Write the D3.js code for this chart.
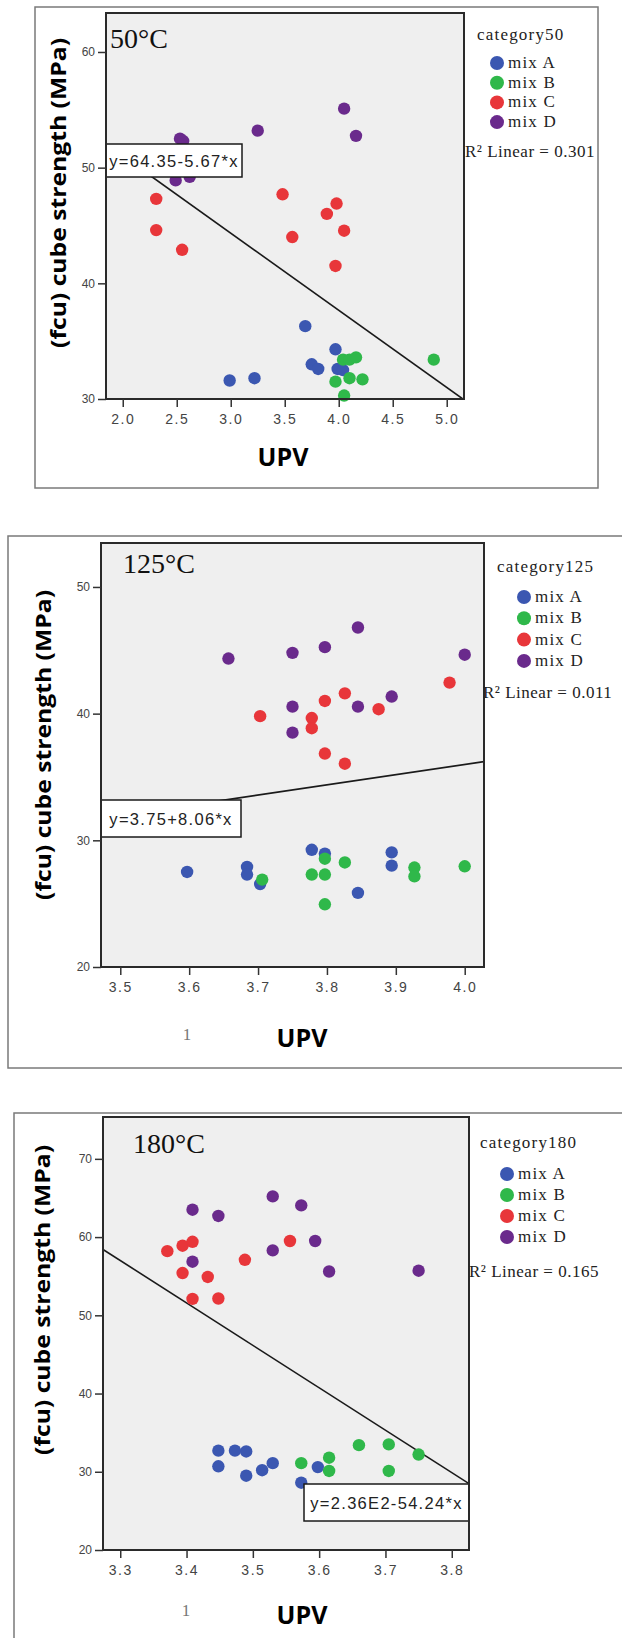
<!DOCTYPE html>
<html>
<head>
<meta charset="utf-8">
<script src="https://cdn.jsdelivr.net/npm/d3@7"></script>
<style>
body { margin: 0; background: #fff; }
.axis .domain { display: none; }
.axis .tick line { stroke: #333; stroke-width: 1.5; }
.axis .tick text { font-family: 'Liberation Sans', sans-serif; fill: #444; }
.yaxis .tick text { font-size: 12px; }
.xaxis .tick text { font-size: 14px; letter-spacing: 1.5px; }
.legend text { font-family: 'Liberation Serif', serif; font-size: 17px; letter-spacing: 1.2px; fill: #222; }
.legend text.r2 { letter-spacing: 0.5px; }
</style>
</head>
<body>
<script>
// categories and colours
const categories = ['mix A', 'mix B', 'mix C', 'mix D']
const colors = ['#3b57b1', '#2fb84a', '#e8363a', '#6a2a8c']

const temps = ['50°C', '125°C', '180°C']
const legendTitles = ['category50', 'category125', 'category180']
const r2Labels = ['R² Linear = 0.301', 'R² Linear = 0.011', 'R² Linear = 0.165']
const eqLabels = ['y=64.35-5.67*x', 'y=3.75+8.06*x', 'y=2.36E2-54.24*x']

// fit line as it is drawn in each panel
const fitIntercept = [64.35, 3.75, 236]
const fitSlope = [-6.67, 8.06, -54.24]

// ticks
const yTicks50 = [30, 40, 50, 60]
const xTicks50 = [2.0, 2.5, 3.0, 3.5, 4.0, 4.5, 5.0]
const yTicks125 = [20, 30, 40, 50]
const xTicks125 = [3.5, 3.6, 3.7, 3.8, 3.9, 4.0]
const yTicks180 = [20, 30, 40, 50, 60, 70]
const xTicks180 = [3.3, 3.4, 3.5, 3.6, 3.7, 3.8]

// 50 C  [UPV, fcu]
const mixA_50 = [[2.99, 31.6], [3.22, 31.8], [3.69, 36.3], [3.75, 33.0], [3.81, 32.6], [3.97, 34.3], [3.99, 32.6], [4.04, 32.5]]
const mixB_50 = [[3.97, 31.5], [4.05, 30.3], [4.10, 31.8], [4.22, 31.7], [4.04, 33.4], [4.10, 33.4], [4.16, 33.6], [4.88, 33.4]]
const mixC_50 = [[2.31, 47.3], [2.31, 44.6], [2.55, 42.9], [3.48, 47.7], [3.57, 44.0], [3.98, 46.9], [3.89, 46.0], [4.05, 44.55], [3.97, 41.5]]
const mixD_50 = [[4.05, 55.1], [3.25, 53.2], [4.16, 52.75], [2.53, 52.5], [2.56, 52.3], [2.49, 48.9], [2.62, 49.2]]

// 125 C
const mixA_125 = [[3.597, 27.5], [3.684, 27.9], [3.684, 27.3], [3.703, 26.55], [3.778, 29.25], [3.797, 28.95], [3.845, 25.85], [3.894, 29.05], [3.894, 28.0]]
const mixB_125 = [[3.706, 26.9], [3.778, 27.3], [3.797, 27.3], [3.797, 28.55], [3.826, 28.25], [3.797, 24.95], [3.927, 27.85], [3.927, 27.15], [4.0, 27.95]]
const mixC_125 = [[3.703, 39.8], [3.778, 39.65], [3.778, 38.85], [3.797, 41.0], [3.826, 41.6], [3.797, 36.85], [3.826, 36.05], [3.875, 40.35], [3.978, 42.45]]
const mixD_125 = [[3.657, 44.35], [3.75, 44.8], [3.797, 45.25], [3.845, 46.8], [4.0, 44.65], [3.75, 40.55], [3.75, 38.5], [3.845, 40.55], [3.894, 41.35]]

// 180 C
const mixA_180 = [[3.448, 32.7], [3.448, 30.7], [3.473, 32.7], [3.49, 32.6], [3.49, 29.5], [3.514, 30.2], [3.53, 31.1], [3.573, 28.6], [3.598, 30.6]]
const mixB_180 = [[3.573, 31.1], [3.615, 31.8], [3.615, 30.1], [3.66, 33.4], [3.705, 33.5], [3.705, 30.1], [3.75, 32.2]]
const mixC_180 = [[3.371, 58.2], [3.394, 58.9], [3.409, 59.4], [3.394, 55.4], [3.432, 54.9], [3.409, 52.1], [3.448, 52.15], [3.488, 57.1], [3.556, 59.5]]
const mixD_180 = [[3.409, 63.5], [3.448, 62.7], [3.53, 65.2], [3.573, 64.05], [3.53, 58.3], [3.594, 59.5], [3.409, 56.85], [3.615, 55.6], [3.75, 55.7]]

// layout of the three panels (pixels)
const panels = [
	{
		series: [mixA_50, mixB_50, mixC_50, mixD_50], xTicks: xTicks50, yTicks: yTicks50,
		xDomain: [1.845, 5.16], yDomain: [30, 63.37],
		outer: [35, 7, 598, 488], plot: [106, 13, 464, 399],
		eqBox: [106, 144, 242, 177], temp: [110, 48], yTitle: [58, 193], xTitle: [283, 466],
		legend: { title: [477, 40], dotX: 497, dotY: 63, step: 19.7, r2: [465, 157] }
	},
	{
		series: [mixA_125, mixB_125, mixC_125, mixD_125], xTicks: xTicks125, yTicks: yTicks125,
		xDomain: [3.472, 4.028], yDomain: [20, 53.47],
		outer: [8, 536, 700, 1068], plot: [101, 543, 484, 967],
		eqBox: [101, 800, 241, 837], temp: [123, 573], yTitle: [43, 745], xTitle: [302, 1047],
		legend: { title: [497, 572], dotX: 524, dotY: 597, step: 21.3, r2: [483, 698] },
		mark: [187, 1040]
	},
	{
		series: [mixA_180, mixB_180, mixC_180, mixD_180], xTicks: xTicks180, yTicks: yTicks180,
		xDomain: [3.274, 3.826], yDomain: [20, 75.35],
		outer: [14, 1113, 700, 1700], plot: [103, 1117, 469, 1550],
		eqBox: [304, 1484, 469, 1521], temp: [133, 1153], yTitle: [42, 1300], xTitle: [302, 1624],
		legend: { title: [480, 1148], dotX: 507, dotY: 1174, step: 21, r2: [469, 1277] },
		mark: [186, 1616]
	}
]

const svg = d3.select('body').append('svg').attr('width', 622).attr('height', 1638)

panels.forEach((p, i) => {
	const g = svg.append('g')
	const [l, t, r, b] = p.plot

	// outer frame
	g.append('rect')
		.attr('x', p.outer[0]).attr('y', p.outer[1])
		.attr('width', p.outer[2] - p.outer[0]).attr('height', p.outer[3] - p.outer[1])
		.attr('fill', '#fff').attr('stroke', '#7a7a7a').attr('stroke-width', 1.5)

	const x = d3.scaleLinear().domain(p.xDomain).range([l, r])
	const y = d3.scaleLinear().domain(p.yDomain).range([b, t])

	g.append('rect').attr('x', l).attr('y', t).attr('width', r - l).attr('height', b - t).attr('fill', '#efefef')

	const clipId = 'clip' + i
	g.append('clipPath').attr('id', clipId)
		.append('rect').attr('x', l).attr('y', t).attr('width', r - l).attr('height', b - t)

	// regression line
	const fit = p.xDomain.map(v => [v, fitIntercept[i] + fitSlope[i] * v])
	g.append('path')
		.attr('clip-path', `url(#${clipId})`)
		.attr('d', d3.line().x(d => x(d[0])).y(d => y(d[1]))(fit))
		.attr('fill', 'none').attr('stroke', '#1a1a1a').attr('stroke-width', 1.6)

	// points
	p.series.forEach((s, k) => {
		g.append('g').selectAll('circle')
			.data(s)
			.join('circle')
			.attr('cx', d => x(d[0]))
			.attr('cy', d => y(d[1]))
			.attr('r', 6.2)
			.attr('fill', colors[k])
	})

	// equation box
	const eb = p.eqBox
	g.append('rect').attr('x', eb[0]).attr('y', eb[1]).attr('width', eb[2] - eb[0]).attr('height', eb[3] - eb[1])
		.attr('fill', '#fff').attr('stroke', '#1a1a1a').attr('stroke-width', 1.5)
	g.append('text')
		.attr('x', (eb[0] + eb[2]) / 2).attr('y', (eb[1] + eb[3]) / 2 + 6)
		.attr('text-anchor', 'middle')
		.attr('font-family', 'Liberation Sans, sans-serif').attr('font-size', 16.5).attr('letter-spacing', 1.3)
		.attr('fill', '#222')
		.text(eqLabels[i])

	// plot frame
	g.append('rect').attr('x', l).attr('y', t).attr('width', r - l).attr('height', b - t)
		.attr('fill', 'none').attr('stroke', '#2a2a2a').attr('stroke-width', 2)

	// axes
	g.append('g').attr('class', 'axis yaxis').attr('transform', `translate(${l},0)`)
		.call(d3.axisLeft(y).tickValues(p.yTicks).tickSize(8).tickPadding(3).tickFormat(d3.format('d')))
	g.append('g').attr('class', 'axis xaxis').attr('transform', `translate(0,${b})`)
		.call(d3.axisBottom(x).tickValues(p.xTicks).tickSize(8).tickPadding(7).tickFormat(d3.format('.1f')))

	// temperature label
	g.append('text').attr('x', p.temp[0]).attr('y', p.temp[1])
		.attr('font-family', 'Liberation Serif, serif').attr('font-size', 28).attr('fill', '#111')
		.text(temps[i])

	// axis titles
	g.append('text')
		.attr('transform', `translate(${p.yTitle[0]},${p.yTitle[1]}) rotate(-90)`)
		.attr('text-anchor', 'middle').attr('dy', '0.35em')
		.attr('font-family', 'Open Sans, sans-serif').attr('font-weight', 'bold').attr('font-size', 22)
		.attr('textLength', 310).attr('lengthAdjust', 'spacingAndGlyphs')
		.text('(fcu) cube strength (MPa)')
	g.append('text')
		.attr('x', p.xTitle[0]).attr('y', p.xTitle[1])
		.attr('text-anchor', 'middle')
		.attr('font-family', 'Open Sans, sans-serif').attr('font-weight', 'bold').attr('font-size', 25)
		.text('UPV')

	if (p.mark) {
		g.append('text').attr('x', p.mark[0]).attr('y', p.mark[1])
			.attr('text-anchor', 'middle')
			.attr('font-family', 'Liberation Serif, serif').attr('font-size', 17).attr('fill', '#777')
			.text('1')
	}

	// legend
	const lg = g.append('g').attr('class', 'legend')
	lg.append('text').attr('x', p.legend.title[0]).attr('y', p.legend.title[1]).text(legendTitles[i])
	categories.forEach((c, k) => {
		const cy = p.legend.dotY + k * p.legend.step
		lg.append('circle').attr('cx', p.legend.dotX).attr('cy', cy).attr('r', 7).attr('fill', colors[k])
		lg.append('text').attr('x', p.legend.dotX + 11).attr('y', cy + 5).text(c)
	})
	lg.append('text').attr('class', 'r2').attr('x', p.legend.r2[0]).attr('y', p.legend.r2[1]).text(r2Labels[i])
})
</script>
</body>
</html>
